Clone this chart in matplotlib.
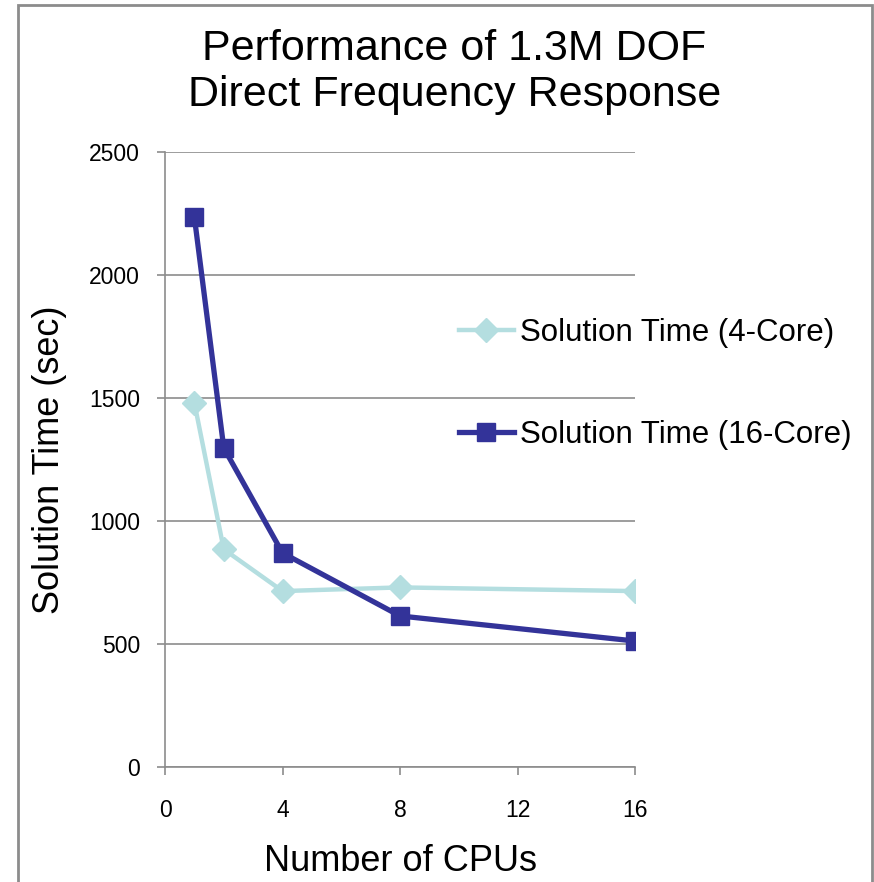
import matplotlib
matplotlib.use("Agg")
import matplotlib.pyplot as plt
from matplotlib.patches import Rectangle

plt.rcParams['font.family'] = ['Liberation Sans', 'DejaVu Sans']

# CPU counts and solution times (seconds)
cpus = [1, 2, 4, 8, 16]
time_4core = [1480, 885, 715, 730, 715]
time_16core = [2235, 1297, 870, 614, 512]

x_ticks = [0, 4, 8, 12, 16]
y_ticks = [0, 500, 1000, 1500, 2000, 2500]

GRID = '#8c8c8c'

fig = plt.figure(figsize=(8.74, 8.82), dpi=100)
ax = fig.add_axes([0.1888, 0.1304, 0.5378, 0.6973])

ax.plot(cpus, time_4core, color='#b4dee0', lw=3.2, marker='D', ms=12,
        label='Solution Time (4-Core)', zorder=3)
ax.plot(cpus, time_16core, color='#333399', lw=3.8, marker='s', ms=13.5,
        label='Solution Time (16-Core)', zorder=4)

ax.set_xlim(0, 16)
ax.set_ylim(0, 2500)
ax.set_xticks(x_ticks)
ax.set_yticks(y_ticks)
ax.yaxis.grid(True, color=GRID, lw=1.2)
ax.set_axisbelow(True)

for side in ['top', 'right']:
    ax.spines[side].set_visible(False)
for side in ['left', 'bottom']:
    ax.spines[side].set_color(GRID)
    ax.spines[side].set_linewidth(1.2)
ax.spines['left'].set_zorder(0.5)
ax.spines['bottom'].set_zorder(0.5)

ax.tick_params(axis='both', colors=GRID, labelcolor='black', labelsize=16.5,
               length=6, width=1.2, direction='out')
ax.tick_params(axis='x', pad=17)
ax.tick_params(axis='y', pad=12)

ax.set_xlabel('Number of CPUs', fontsize=26, labelpad=16)
ax.set_ylabel('Solution Time (sec)', fontsize=26, labelpad=16)

fig.text(0.52, 0.967, 'Performance of 1.3M DOF\nDirect Frequency Response',
         ha='center', va='top', fontsize=31, linespacing=1.19)

ax.legend(loc='center left', bbox_to_anchor=(0.511, 0.565),
          bbox_transform=fig.transFigure, frameon=False, fontsize=22.5,
          labelspacing=2.3, handlelength=1.75, handletextpad=0.2,
          borderaxespad=0, borderpad=0.4)

# outer chart frame
fig.patches.append(Rectangle((18 / 874, -0.05), (872 - 18) / 874, 1.05 - 5 / 882,
                             transform=fig.transFigure, fill=False,
                             edgecolor='#8c8c8c', lw=2))

fig.savefig('out.png', dpi=100)
